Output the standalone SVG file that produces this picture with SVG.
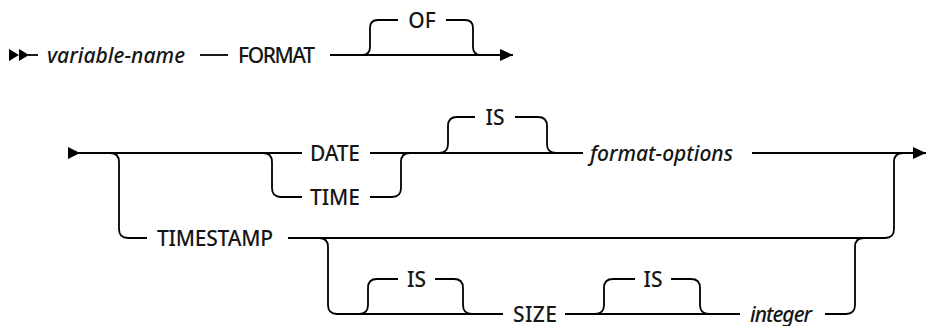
<svg xmlns="http://www.w3.org/2000/svg" width="927" height="326" viewBox="0 0 927 326">
<defs>
<style>
.c{fill:none;stroke:#000;stroke-width:1.8}
.t{font-family:"Noto Sans","DejaVu Sans",sans-serif;font-size:21px;font-weight:500;fill:#161616;text-anchor:middle}
.i{font-style:italic}
.a{fill:#000}
</style>
<marker id="arr" markerUnits="userSpaceOnUse" markerWidth="14" markerHeight="14" refX="13" refY="6" orient="auto">
<path d="M0,0 L13,6 L0,12 z" fill="#000"/>
</marker>
</defs>
<rect width="927" height="326" fill="#fff"/>
<g id="connectors">
<polygon class="a" points="9,49 9,61 19,55"/>
<polygon class="a" points="19,49 19,61 29,55"/>
<path class="c" d="M28,55 H38"/>
<path class="c" d="M200,55 H228"/>
<path class="c" d="M330,55 H513" marker-end="url(#arr)"/>
<path class="c" d="M362,55 Q370,55 370,47 V28 Q370,20 378,20 H398 M446,20 H465 Q473,20 473,28 V47 Q473,55 481,55"/>
<polygon class="a" points="68,147 68,159 80,153"/>
<path class="c" d="M78,153 H302"/>
<path class="c" d="M110,153 Q119,153 119,162 V229 Q119,238 128,238 H147"/>
<path class="c" d="M263,153 Q272,153 272,162 V188 Q272,197 281,197 H302"/>
<path class="c" d="M370,153 H583"/>
<path class="c" d="M370,197 H392 Q401,197 401,188 V162 Q401,153 410,153"/>
<path class="c" d="M439,153 Q448,153 448,144 V126 Q448,117 457,117 H475 M515,117 H538 Q547,117 547,126 V144 Q547,153 556,153"/>
<path class="c" d="M752,153 H926" marker-end="url(#arr)"/>
<path class="c" d="M288,238 H885 Q894,238 894,229 V162 Q894,153 903,153"/>
<path class="c" d="M319,238 Q328,238 328,247 V305 Q328,314 337,314 H503"/>
<path class="c" d="M359,314 Q368,314 368,305 V288 Q368,279 377,279 H398 M435,279 H454 Q463,279 463,288 V305 Q463,314 472,314"/>
<path class="c" d="M565,314 H740"/>
<path class="c" d="M595,314 Q604,314 604,305 V288 Q604,279 613,279 H635 M671,279 H691 Q700,279 700,288 V305 Q700,314 709,314"/>
<path class="c" d="M825,314 H846 Q855,314 855,305 V247 Q855,238 864,238"/>
</g>
<g id="n-variable-name"><text class="t i" x="116" y="62.5" textLength="138">variable-name</text></g>
<g id="n-format"><text class="t" x="276.5" y="62.5" textLength="77">FORMAT</text></g>
<g id="n-of"><text class="t" x="422" y="27.5">OF</text></g>
<g id="n-date"><text class="t" x="335" y="160.5" textLength="50">DATE</text></g>
<g id="n-time"><text class="t" x="335" y="204.5" textLength="50">TIME</text></g>
<g id="n-is1"><text class="t" x="495" y="124.5">IS</text></g>
<g id="n-format-options"><text class="t i" x="661.5" y="160.5" textLength="143">format-options</text></g>
<g id="n-timestamp"><text class="t" x="215" y="245.5" textLength="116">TIMESTAMP</text></g>
<g id="n-is2"><text class="t" x="416.5" y="286.5">IS</text></g>
<g id="n-size"><text class="t" x="535" y="321.5" textLength="44">SIZE</text></g>
<g id="n-is3"><text class="t" x="653" y="286.5">IS</text></g>
<g id="n-integer"><text class="t i" x="781" y="321.5" textLength="62">integer</text></g>
</svg>
